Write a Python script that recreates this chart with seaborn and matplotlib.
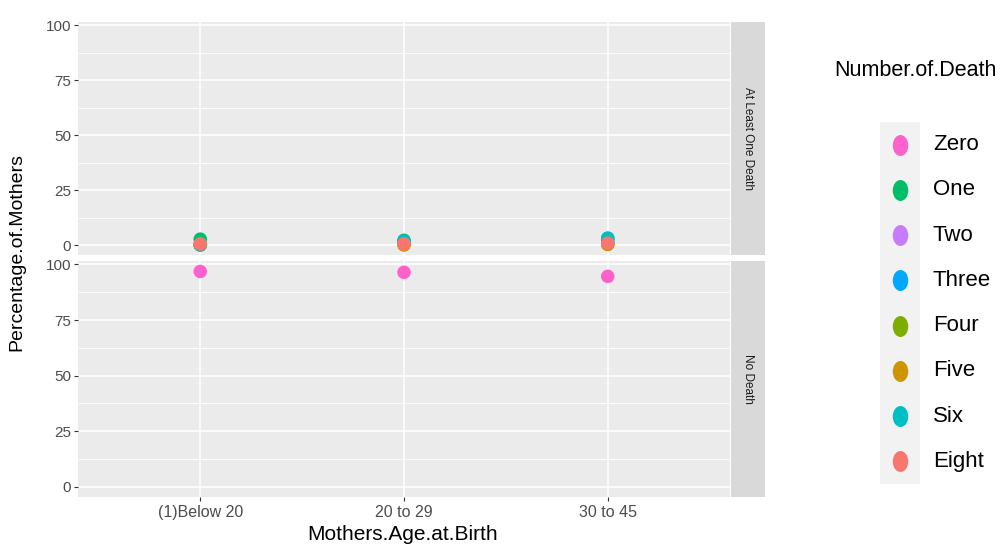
import matplotlib
matplotlib.use("Agg")
import matplotlib.pyplot as plt
from matplotlib.markers import MarkerStyle
from matplotlib.transforms import Affine2D
import numpy as np
import pandas as pd
import seaborn as sns

# ---- data -------------------------------------------------------------
age_groups = ["(1)Below 20", "20 to 29", "30 to 45"]
death_levels = ["Zero", "One", "Two", "Three", "Four", "Five", "Six", "Eight"]
facet_rows = ["At Least One Death", "No Death"]

pct_zero = [96.8, 96.4, 94.6]
pct_one = [2.7, 2.2, 3.0]
pct_two = [0.4, 0.6, 0.9]
pct_three = [0.2, 1.0, 2.0]
pct_four = [0.1, 0.2, 0.4]
pct_five = [0.1, 0.1, 0.3]
pct_six = [0.1, 1.8, 3.2]
pct_eight = [0.5, 0.6, 0.9]

y_ticks = [0, 25, 50, 75, 100]

# ggplot-style hue palette (levels sorted alphabetically get the hues)
level_colors = {
    "Eight": "#F8766D", "Five": "#CD9600", "Four": "#7CAE00", "One": "#00BE67",
    "Six": "#00BFC4", "Three": "#00A9FF", "Two": "#C77CFF", "Zero": "#FF61CC",
}

series = [pct_zero, pct_one, pct_two, pct_three, pct_four, pct_five, pct_six, pct_eight]
rows = []
for level, vals in zip(death_levels, series):
    facet = "No Death" if level == "Zero" else "At Least One Death"
    for grp, v in zip(age_groups, vals):
        rows.append({"Mothers.Age.at.Birth": grp, "Percentage.of.Mothers": v,
                     "Number.of.Death": level, "facet": facet})
df = pd.DataFrame(rows)

# ---- figure -----------------------------------------------------------
sns.set_theme(style="white")
plt.rcParams["font.family"] = ["Liberation Sans", "DejaVu Sans"]

W, H = 1004, 545
fig = plt.figure(figsize=(W / 100, H / 100), dpi=100)

def fx(px):
    return px / W

def fy(py):
    return 1 - py / H

left, right = 78, 730
panels = {"At Least One Death": (22, 255), "No Death": (261, 497)}
axes = {}
for name in facet_rows:
    top, bot = panels[name]
    ax = fig.add_axes([fx(left), fy(bot), fx(right - left), (bot - top) / H])
    axes[name] = ax
    ax.set_facecolor("#EBEBEB")
    for s in ax.spines.values():
        s.set_visible(False)
    sub = df[df["facet"] == name]
    sns.scatterplot(data=sub, x="Mothers.Age.at.Birth", y="Percentage.of.Mothers",
                    hue="Number.of.Death", palette=level_colors, s=95,
                    linewidth=0, legend=False, ax=ax, zorder=3)
    ax.set_xlim(-0.6, 2.6)
    ax.set_ylim(-4.5, 101.5)
    ax.set_yticks(y_ticks)
    ax.set_yticks([12.5, 37.5, 62.5, 87.5], minor=True)
    ax.set_xticks(range(len(age_groups)))
    ax.set_xticklabels(age_groups)
    ax.grid(True, which="major", color="white", linewidth=1.1)
    ax.grid(True, which="minor", axis="y", color="white", linewidth=0.55)
    ax.set_axisbelow(True)
    ax.tick_params(axis="y", which="major", length=3, width=0.8, color="#333333",
                   labelsize=11, labelcolor="#4D4D4D", pad=2, left=True)
    ax.tick_params(axis="y", which="minor", length=0)
    ax.tick_params(axis="x", length=3, width=0.8, color="#333333",
                   labelsize=11.5, labelcolor="#4D4D4D", pad=3, bottom=True)
    ax.set_xlabel("")
    ax.set_ylabel("")

    # facet strip on the right
    sax = fig.add_axes([fx(731), fy(bot), fx(765 - 731), (bot - top) / H])
    sax.set_facecolor("#D9D9D9")
    sax.set_xticks([])
    sax.set_yticks([])
    for s in sax.spines.values():
        s.set_visible(False)
    sax.text(0.5, 0.5, name, rotation=-90, ha="center", va="center",
             fontsize=8.5, color="#1A1A1A", transform=sax.transAxes)

axes["At Least One Death"].tick_params(axis="x", labelbottom=False, bottom=False)

fig.text(fx(17), fy(252), "Percentage.of.Mothers", rotation=90, ha="center",
         va="center", fontsize=14, color="black")
fig.text(fx(403), fy(534), "Mothers.Age.at.Birth", ha="center", va="center",
         fontsize=15, color="black")

# ---- legend -----------------------------------------------------------
fig.text(fx(834), fy(70), "Number.of.Death", ha="left", va="center",
         fontsize=15.5, color="black")
leg_top, leg_bot = 122, 484
lax = fig.add_axes([fx(880), fy(leg_bot), fx(40), (leg_bot - leg_top) / H])
lax.set_facecolor("#F2F2F2")
lax.set_xticks([])
lax.set_yticks([])
for s in lax.spines.values():
    s.set_visible(False)
n = len(death_levels)
key_y = np.arange(n)
lax.set_xlim(0, 1)
lax.set_ylim(n - 0.5, -0.5)
tall = MarkerStyle("o", transform=Affine2D().scale(1.0, 1.35))
for i, level in enumerate(death_levels):
    lax.scatter([0.5], [key_y[i]], s=125, marker=tall, color=level_colors[level],
                linewidths=0)
    ypix = leg_top + (i + 0.5) * (leg_bot - leg_top) / n
    fig.text(fx(933), fy(ypix), level, ha="left", va="center", fontsize=16,
             color="black")

fig.savefig("out.png", dpi=100)
